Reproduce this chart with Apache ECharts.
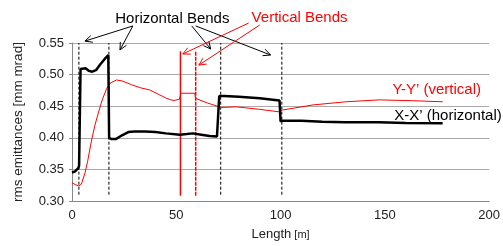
<!DOCTYPE html>
<html>
<head>
<meta charset="utf-8">
<script src="https://cdn.jsdelivr.net/npm/echarts@6/dist/echarts.min.js"></script>
<style>
  html, body { margin: 0; padding: 0; background: #fff; }
  #chart { width: 503px; height: 246px; }
</style>
</head>
<body>
<div id="chart"></div>
<script>
// X-X' (horizontal) emittance along the beamline
const xEmitLength = [0, 1.5, 3.0, 3.4, 4.1, 5.0, 6.5, 8, 9.7, 11.5, 13.5, 15.5, 17.4, 17.8, 19, 21, 24, 27, 30, 35, 40, 45, 51.7, 55, 58, 62, 66, 69.5, 70.6, 73, 80, 90, 99.5, 100, 101, 110, 120, 131, 147, 160, 177.7];
const xEmitValue = [0.345, 0.347, 0.352, 0.356, 0.509, 0.512, 0.510, 0.506, 0.5046, 0.507, 0.516, 0.524, 0.531, 0.400, 0.398, 0.398, 0.404, 0.409, 0.410, 0.410, 0.409, 0.407, 0.405, 0.406, 0.407, 0.405, 0.403, 0.402, 0.466, 0.466, 0.465, 0.4625, 0.459, 0.426, 0.427, 0.427, 0.4255, 0.4245, 0.4245, 0.4235, 0.423];

// Y-Y' (vertical) emittance along the beamline
const yEmitLength = [0, 1.5, 3.3, 4.5, 6.2, 7.5, 9.4, 11, 12.6, 14.5, 16.6, 18.5, 21.4, 24, 28.5, 33, 37.3, 42, 45.3, 47.5, 48.2, 49, 51.5, 52.2, 58.9, 59.2, 65, 71.6, 78.8, 90, 99.5, 101, 115.5, 131.4, 147.4, 163.3, 177.7];
const yEmitValue = [0.329, 0.326, 0.3238, 0.327, 0.344, 0.363, 0.3965, 0.420, 0.439, 0.460, 0.478, 0.487, 0.4915, 0.490, 0.484, 0.479, 0.4757, 0.468, 0.4625, 0.460, 0.462, 0.459, 0.461, 0.4705, 0.4705, 0.4625, 0.455, 0.448, 0.449, 0.445, 0.441, 0.444, 0.452, 0.457, 0.460, 0.4587, 0.457];

// bend positions [m]
const horizontalBends = [3.3, 17.7, 71.3, 100.6];
const verticalBends = [52, 59.3];

// axis ticks
const xTicks = [0, 50, 100, 150, 200];
const yTicks = [0.30, 0.35, 0.40, 0.45, 0.50, 0.55];

const chart = echarts.init(document.getElementById('chart'));
const font = 'Liberation Sans, Arial, sans-serif';

const zip = (a, b) => a.map((v, i) => [v, b[i]]);

const bendSeries = [];
horizontalBends.forEach(x => {
  bendSeries.push({
    type: 'line', silent: true, symbol: 'none', z: 1,
    data: [[x, 0.31], [x, 0.55]],
    lineStyle: { color: '#000', width: 1, type: [3, 2] }
  });
});
verticalBends.forEach((x, i) => {
  bendSeries.push({
    type: 'line', silent: true, symbol: 'none', z: 1,
    data: [[x, 0.3085], [x, 0.537]],
    lineStyle: { color: '#ff0000', width: 1.5, type: i === 0 ? 'solid' : [4, 1] }
  });
});

chart.setOption({
  animation: false,
  grid: { left: 72, right: 13, top: 43, bottom: 45 },
  xAxis: {
    type: 'value',
    min: xTicks[0], max: xTicks[xTicks.length - 1], interval: 50,
    axisLine: { lineStyle: { color: '#888' } },
    axisTick: { show: false },
    splitLine: { show: false },
    axisLabel: { color: '#222', fontSize: 13, fontFamily: font, margin: 8 },
    name: '{a|Length}{b| [m]}',
    nameLocation: 'middle',
    nameGap: 27,
    nameTextStyle: {
      rich: {
        a: { fontSize: 13, fontFamily: font, color: '#222' },
        b: { fontSize: 11, fontFamily: font, color: '#222' }
      }
    }
  },
  yAxis: {
    type: 'value',
    min: yTicks[0], max: yTicks[yTicks.length - 1], interval: 0.05,
    axisLine: { show: true, lineStyle: { color: '#888' } },
    axisTick: { show: true, length: 3, lineStyle: { color: '#888' } },
    splitLine: { lineStyle: { color: '#aaa', width: 1 } },
    axisLabel: { color: '#222', fontSize: 13, fontFamily: font, margin: 8, formatter: v => v.toFixed(2) },
    name: 'rms emittances [mm mrad]',
    nameLocation: 'middle',
    nameGap: 47,
    nameTextStyle: { color: '#222', fontSize: 13.5, fontFamily: font }
  },
  series: bendSeries.concat([
    {
      name: "Y-Y'", type: 'line', symbol: 'none', z: 3,
      data: zip(yEmitLength, yEmitValue),
      lineStyle: { color: '#ff0000', width: 1 }
    },
    {
      name: "X-X'", type: 'line', symbol: 'none', z: 4,
      data: zip(xEmitLength, xEmitValue),
      lineStyle: { color: '#000', width: 2.5 }
    }
  ])
});

// annotations, placed in data coordinates
const hArrows = [
  [[29.2, 0.577], [6.2, 0.553]],
  [[29.2, 0.577], [23, 0.539]],
  [[57.4, 0.577], [66.5, 0.5405]],
  [[59.3, 0.577], [95.2, 0.531]]
];
const vArrows = [
  [[84.7, 0.5816], [53.1, 0.5326]],
  [[90, 0.5785], [60.8, 0.515]]
];
const labels = [
  { text: 'Horizontal Bends', at: [48.1, 0.588], color: '#000', align: 'center' },
  { text: 'Vertical Bends', at: [109.1, 0.5896], color: '#ff0000', align: 'center' },
  { text: 'Y-Y\u2019 (vertical)', at: [153.6, 0.4757], color: '#ff0000', align: 'left' },
  { text: 'X-X\u2019 (horizontal)', at: [154.5, 0.4345], color: '#000', align: 'left' }
];

const px = p => chart.convertToPixel({ gridIndex: 0 }, p);

function arrow(from, to, color) {
  const a = px(from), b = px(to);
  const ang = Math.atan2(b[1] - a[1], b[0] - a[0]);
  const len = 8, spread = 0.45;
  const h1 = [b[0] - len * Math.cos(ang - spread), b[1] - len * Math.sin(ang - spread)];
  const h2 = [b[0] - len * Math.cos(ang + spread), b[1] - len * Math.sin(ang + spread)];
  return [
    { type: 'line', shape: { x1: a[0], y1: a[1], x2: b[0], y2: b[1] }, style: { stroke: color, lineWidth: 1 } },
    { type: 'polyline', shape: { points: [h1, b, h2] }, style: { stroke: color, lineWidth: 1, fill: null } }
  ];
}

let graphics = [];
hArrows.forEach(a => { graphics = graphics.concat(arrow(a[0], a[1], '#000')); });
vArrows.forEach(a => { graphics = graphics.concat(arrow(a[0], a[1], '#ff0000')); });
labels.forEach(l => {
  const p = px(l.at);
  graphics.push({
    type: 'text', x: p[0], y: p[1],
    style: { text: l.text, fill: l.color, fontSize: 15, fontFamily: font, align: l.align, verticalAlign: 'middle' }
  });
});

chart.setOption({ graphic: graphics });
</script>
</body>
</html>
